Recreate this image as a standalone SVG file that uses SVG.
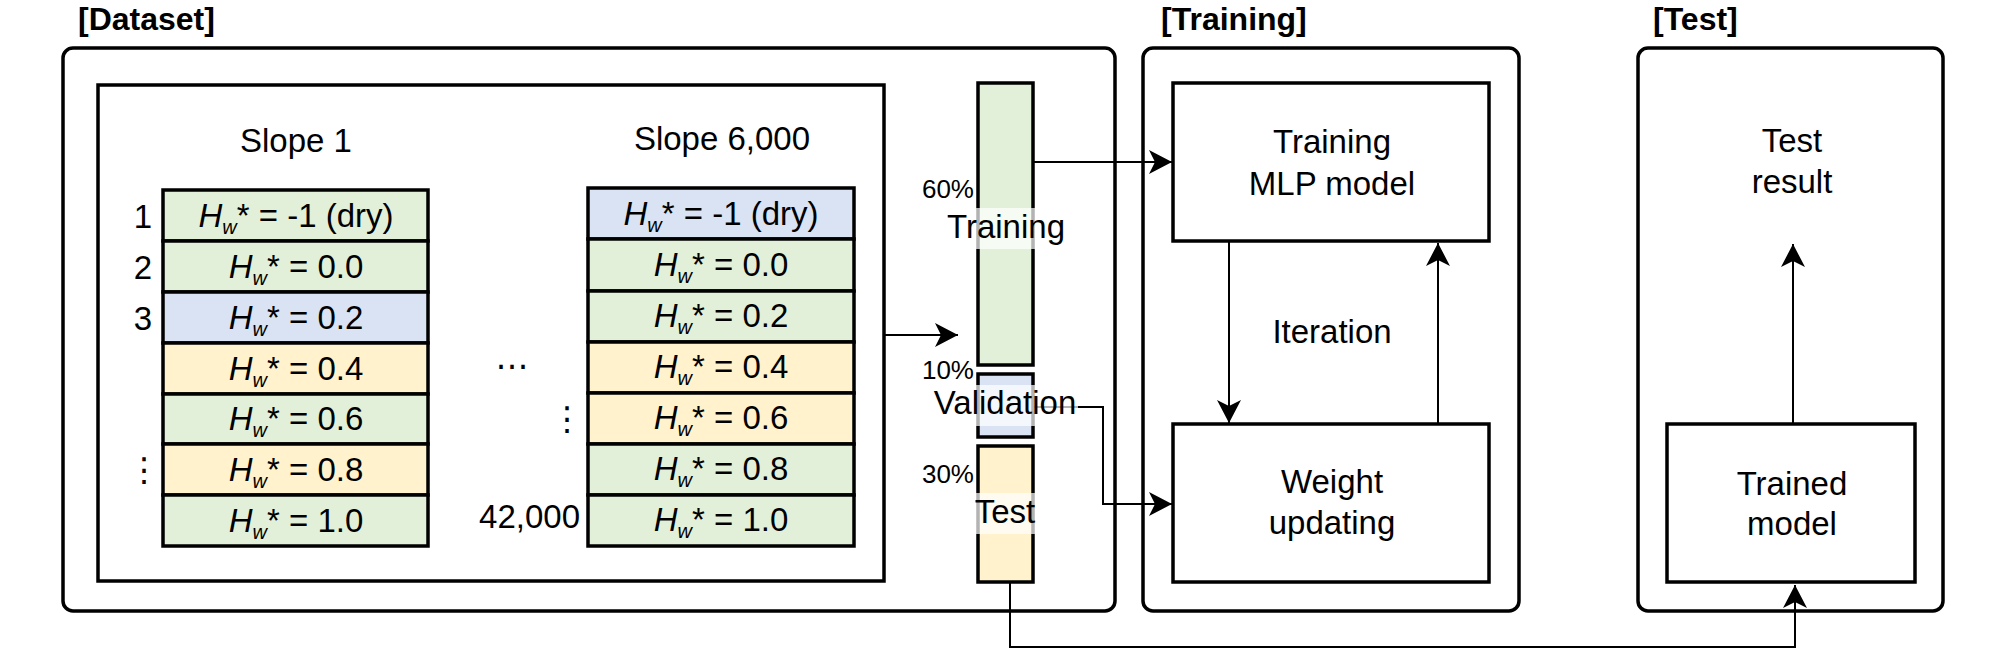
<svg xmlns="http://www.w3.org/2000/svg" width="2008" height="652" viewBox="0 0 2008 652">
<style>
.t{font-family:"Liberation Sans",Arial,"DejaVu Sans",sans-serif;font-size:33px;fill:#000}
.hd{font-weight:bold;font-size:32px}
.pc{font-size:26px}
.box{fill:#fff;stroke:#000;stroke-width:3.5}
.cell{stroke:#000;stroke-width:3.5}
.g{fill:#E2F0D9}.b{fill:#DAE3F3}.y{fill:#FFF2CC}
.edge{fill:none;stroke:#000;stroke-width:2;marker-end:url(#arr)}
.lbg{fill:#fff;fill-opacity:0.7}
.i{font-style:italic}
.sub{font-style:italic;font-size:20px}
</style>
<defs>
<marker id="arr" markerUnits="userSpaceOnUse" markerWidth="24" markerHeight="24" refX="23" refY="12" orient="auto" overflow="visible">
<path d="M0,0 L23,12 L0,24 L6,12 Z" fill="#000"/>
</marker>
</defs>
<rect width="2008" height="652" fill="#fff"/>

<g id="dataset-group">
<text class="t hd" x="78" y="30">[Dataset]</text>
<rect class="box" x="63" y="48" width="1052" height="563" rx="10"/>
<rect class="box" x="98" y="85" width="786" height="496"/>
</g>

<g id="slope1">
<text class="t" x="296" y="152" text-anchor="middle">Slope 1</text>
<rect class="cell g" x="163" y="190" width="265" height="51"/>
<rect class="cell g" x="163" y="241" width="265" height="51"/>
<rect class="cell b" x="163" y="292" width="265" height="51"/>
<rect class="cell y" x="163" y="343" width="265" height="51"/>
<rect class="cell g" x="163" y="394" width="265" height="50"/>
<rect class="cell y" x="163" y="444" width="265" height="51"/>
<rect class="cell g" x="163" y="495" width="265" height="51"/>
<text class="t" x="296" y="227" text-anchor="middle"><tspan class="i">H</tspan><tspan class="sub" dy="7">w</tspan><tspan dy="-7">* = -1 (dry)</tspan></text>
<text class="t" x="296" y="278" text-anchor="middle"><tspan class="i">H</tspan><tspan class="sub" dy="7">w</tspan><tspan dy="-7">* = 0.0</tspan></text>
<text class="t" x="296" y="329" text-anchor="middle"><tspan class="i">H</tspan><tspan class="sub" dy="7">w</tspan><tspan dy="-7">* = 0.2</tspan></text>
<text class="t" x="296" y="380" text-anchor="middle"><tspan class="i">H</tspan><tspan class="sub" dy="7">w</tspan><tspan dy="-7">* = 0.4</tspan></text>
<text class="t" x="296" y="430" text-anchor="middle"><tspan class="i">H</tspan><tspan class="sub" dy="7">w</tspan><tspan dy="-7">* = 0.6</tspan></text>
<text class="t" x="296" y="481" text-anchor="middle"><tspan class="i">H</tspan><tspan class="sub" dy="7">w</tspan><tspan dy="-7">* = 0.8</tspan></text>
<text class="t" x="296" y="532" text-anchor="middle"><tspan class="i">H</tspan><tspan class="sub" dy="7">w</tspan><tspan dy="-7">* = 1.0</tspan></text>
<text class="t" x="152" y="228" text-anchor="end">1</text>
<text class="t" x="152" y="279" text-anchor="end">2</text>
<text class="t" x="152" y="330" text-anchor="end">3</text>
<text class="t" x="144" y="481" text-anchor="middle">⋮</text>
</g>

<g id="middle-labels">
<text class="t" x="512" y="377" text-anchor="middle">⋯</text>
<text class="t" x="567" y="430" text-anchor="middle">⋮</text>
<text class="t" x="580" y="528" text-anchor="end">42,000</text>
</g>

<g id="slope6000">
<text class="t" x="722" y="150" text-anchor="middle">Slope 6,000</text>
<rect class="cell b" x="588" y="188" width="266" height="51"/>
<rect class="cell g" x="588" y="239" width="266" height="52"/>
<rect class="cell g" x="588" y="291" width="266" height="51"/>
<rect class="cell y" x="588" y="342" width="266" height="51"/>
<rect class="cell y" x="588" y="393" width="266" height="51"/>
<rect class="cell g" x="588" y="444" width="266" height="51"/>
<rect class="cell g" x="588" y="495" width="266" height="51"/>
<text class="t" x="721" y="225" text-anchor="middle"><tspan class="i">H</tspan><tspan class="sub" dy="7">w</tspan><tspan dy="-7">* = -1 (dry)</tspan></text>
<text class="t" x="721" y="276" text-anchor="middle"><tspan class="i">H</tspan><tspan class="sub" dy="7">w</tspan><tspan dy="-7">* = 0.0</tspan></text>
<text class="t" x="721" y="327" text-anchor="middle"><tspan class="i">H</tspan><tspan class="sub" dy="7">w</tspan><tspan dy="-7">* = 0.2</tspan></text>
<text class="t" x="721" y="378" text-anchor="middle"><tspan class="i">H</tspan><tspan class="sub" dy="7">w</tspan><tspan dy="-7">* = 0.4</tspan></text>
<text class="t" x="721" y="429" text-anchor="middle"><tspan class="i">H</tspan><tspan class="sub" dy="7">w</tspan><tspan dy="-7">* = 0.6</tspan></text>
<text class="t" x="721" y="480" text-anchor="middle"><tspan class="i">H</tspan><tspan class="sub" dy="7">w</tspan><tspan dy="-7">* = 0.8</tspan></text>
<text class="t" x="721" y="531" text-anchor="middle"><tspan class="i">H</tspan><tspan class="sub" dy="7">w</tspan><tspan dy="-7">* = 1.0</tspan></text>
</g>

<g id="split-bars">
<rect class="cell g" x="978" y="83" width="55" height="282"/>
<rect class="cell b" x="978" y="374" width="55" height="63"/>
<rect class="cell y" x="978" y="446" width="55" height="136"/>
<text class="t pc" x="974" y="198" text-anchor="end">60%</text>
<text class="t pc" x="974" y="379" text-anchor="end">10%</text>
<text class="t pc" x="974" y="483" text-anchor="end">30%</text>
</g>

<g id="training-group">
<text class="t hd" x="1161" y="30">[Training]</text>
<rect class="box" x="1143" y="48" width="376" height="563" rx="10"/>
</g>
<g id="training-mlp">
<rect class="box" x="1173" y="83" width="316" height="158"/>
<text class="t" x="1332" y="153" text-anchor="middle">Training</text>
<text class="t" x="1332" y="195" text-anchor="middle">MLP model</text>
</g>
<g id="weight-updating">
<rect class="box" x="1173" y="424" width="316" height="158"/>
<text class="t" x="1332" y="493" text-anchor="middle">Weight</text>
<text class="t" x="1332" y="534" text-anchor="middle">updating</text>
</g>

<g id="test-group">
<text class="t hd" x="1653" y="30">[Test]</text>
<rect class="box" x="1638" y="48" width="305" height="563" rx="10"/>
</g>
<g id="test-result">
<text class="t" x="1792" y="152" text-anchor="middle">Test</text>
<text class="t" x="1792" y="193" text-anchor="middle">result</text>
</g>
<g id="trained-model">
<rect class="box" x="1667" y="424" width="248" height="158"/>
<text class="t" x="1792" y="495" text-anchor="middle">Trained</text>
<text class="t" x="1792" y="535" text-anchor="middle">model</text>
</g>

<g id="connectors">
<path class="edge" d="M884,335 L958,335"/>
<path class="edge" d="M1033,162 L1172,162"/>
<path class="edge" d="M1033,407 L1103,407 L1103,504 L1172,504"/>
<path class="edge" d="M1010,582 L1010,647 L1795,647 L1795,585"/>
<path class="edge" d="M1229,241 L1229,423"/>
<path class="edge" d="M1438,424 L1438,243"/>
<path class="edge" d="M1793,424 L1793,244"/>
<text class="t" x="1332" y="343" text-anchor="middle">Iteration</text>
</g>

<g id="bar-labels">
<rect class="lbg" x="945" y="208" width="122" height="41"/>
<text class="t" x="1006" y="238" text-anchor="middle">Training</text>
<rect class="lbg" x="931" y="385" width="147" height="41"/>
<text class="t" x="1005" y="414" text-anchor="middle">Validation</text>
<rect class="lbg" x="972" y="493" width="66" height="41"/>
<text class="t" x="1005" y="523" text-anchor="middle">Test</text>
</g>
</svg>
